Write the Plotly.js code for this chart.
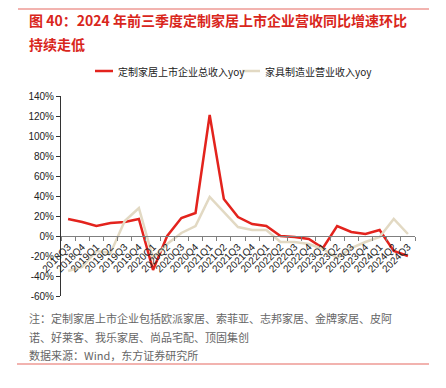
<!DOCTYPE html>
<html>
<head>
<meta charset="utf-8">
<script src="https://cdn.plot.ly/plotly-3.0.1.min.js"></script>
<style>
html,body{margin:0;padding:0;background:#fff;}
#chart{width:446px;height:388px;}
</style>
</head>
<body>
<div id="chart"></div>
<script>
var categories = ['2018Q3','2018Q4','2019Q1','2019Q2','2019Q3','2019Q4','2020Q1','2020Q2','2020Q3','2020Q4','2021Q1','2021Q2','2021Q3','2021Q4','2022Q1','2022Q2','2022Q3','2022Q4','2023Q1','2023Q2','2023Q3','2023Q4','2024Q1','2024Q2','2024Q3'];
var customHomeRevenueYoy = [17,14,10,13,14,17,-34,0,18,23,121,37,19,12,10,0,-1,-3,-12,10,4,2,6,-15,-20];
var furnitureMfgRevenueYoy = [-35,-31,-15,-17,15,28,-22,-8,3,10,39,24,9,6,6,-6,-6,-8,-13,-22,-12,-6,-1,17,2];
var seriesNames = ['定制家居上市企业总收入yoy','家具制造业营业收入yoy'];
var seriesColors = ['#E3231D','#E2D9C3'];
var yTickVals = [-60,-40,-20,0,20,40,60,80,100,120,140];

var W = 446, H = 388;
var L = 61, R = 415, T = 96, B = 296;
function fx(px){ return (px - L) / (R - L); }
function fy(py){ return (B - py) / (B - T); }

var cjk = '"Noto Sans CJK SC", "Liberation Sans", Arial, sans-serif';
var latin = '"Liberation Sans", Arial, sans-serif';

var traces = [
  {x: categories, y: customHomeRevenueYoy, name: seriesNames[0], type: 'scatter', mode: 'lines',
   line: {color: seriesColors[0], width: 2.5}},
  {x: categories, y: furnitureMfgRevenueYoy, name: seriesNames[1], type: 'scatter', mode: 'lines',
   line: {color: seriesColors[1], width: 2.5}}
];

var legendX = [95, 242];
var legendY = 71;
var shapes = [
  {type: 'line', xref: 'paper', yref: 'paper', x0: fx(18), x1: fx(429), y0: fy(9), y1: fy(9),
   line: {color: '#EE9A94', width: 1.5}},
  {type: 'line', xref: 'paper', yref: 'paper', x0: fx(17), x1: fx(429), y0: fy(364), y1: fy(364),
   line: {color: '#EE9A94', width: 1.5}}
];
var annotations = [
  {xref: 'paper', yref: 'paper', x: fx(27), y: fy(20), xanchor: 'left', yanchor: 'middle', showarrow: false,
   text: '<b>图 40：2024 年前三季度定制家居上市企业营收同比增速环比</b>', font: {family: cjk, size: 14, color: '#D9261C'}},
  {xref: 'paper', yref: 'paper', x: fx(27), y: fy(44), xanchor: 'left', yanchor: 'middle', showarrow: false,
   text: '<b>持续走低</b>', font: {family: cjk, size: 14, color: '#D9261C'}},
  {xref: 'paper', yref: 'paper', x: fx(27), y: fy(318), xanchor: 'left', yanchor: 'middle', showarrow: false,
   text: '注：定制家居上市企业包括欧派家居、索菲亚、志邦家居、金牌家居、皮阿', font: {family: cjk, size: 11, color: '#666'}},
  {xref: 'paper', yref: 'paper', x: fx(27), y: fy(337), xanchor: 'left', yanchor: 'middle', showarrow: false,
   text: '诺、好莱客、我乐家居、尚品宅配、顶固集创', font: {family: cjk, size: 11, color: '#666'}},
  {xref: 'paper', yref: 'paper', x: fx(27), y: fy(355), xanchor: 'left', yanchor: 'middle', showarrow: false,
   text: '数据来源：Wind，东方证券研究所', font: {family: cjk, size: 11, color: '#666'}}
];
for (var i = 0; i < seriesNames.length; i++) {
  shapes.push({type: 'line', xref: 'paper', yref: 'paper', x0: fx(legendX[i]), x1: fx(legendX[i] + 18),
    y0: fy(legendY), y1: fy(legendY), line: {color: seriesColors[i], width: 2.5}});
  annotations.push({xref: 'paper', yref: 'paper', x: fx(legendX[i] + 21), y: fy(legendY), xanchor: 'left', yanchor: 'middle',
    showarrow: false, text: seriesNames[i], font: {family: cjk, size: 10, color: '#222'}});
}

var layout = {
  width: W, height: H,
  margin: {l: L, r: W - R, t: T, b: H - B, pad: 0},
  paper_bgcolor: '#fff', plot_bgcolor: '#fff',
  showlegend: false,
  xaxis: {type: 'category', anchor: 'free', position: 0.3,
    showline: true, linecolor: '#7f7f7f', linewidth: 1.2,
    ticks: 'outside', ticklen: 4, tickcolor: '#7f7f7f', tickson: 'boundaries',
    tickangle: -45, tickfont: {family: latin, size: 10, color: '#222'},
    showgrid: false, zeroline: false, range: [-0.5, 24.5], fixedrange: true},
  yaxis: {range: [-60, 140], tickvals: yTickVals, ticktext: yTickVals.map(function(v){return v + '%';}),
    showline: true, linecolor: '#333', linewidth: 1,
    ticks: 'outside', ticklen: 4, tickcolor: '#333',
    tickfont: {family: latin, size: 10, color: '#222'},
    showgrid: false, zeroline: false, fixedrange: true},
  shapes: shapes,
  annotations: annotations
};

Plotly.newPlot('chart', traces, layout, {staticPlot: true, displayModeBar: false});
</script>
</body>
</html>
